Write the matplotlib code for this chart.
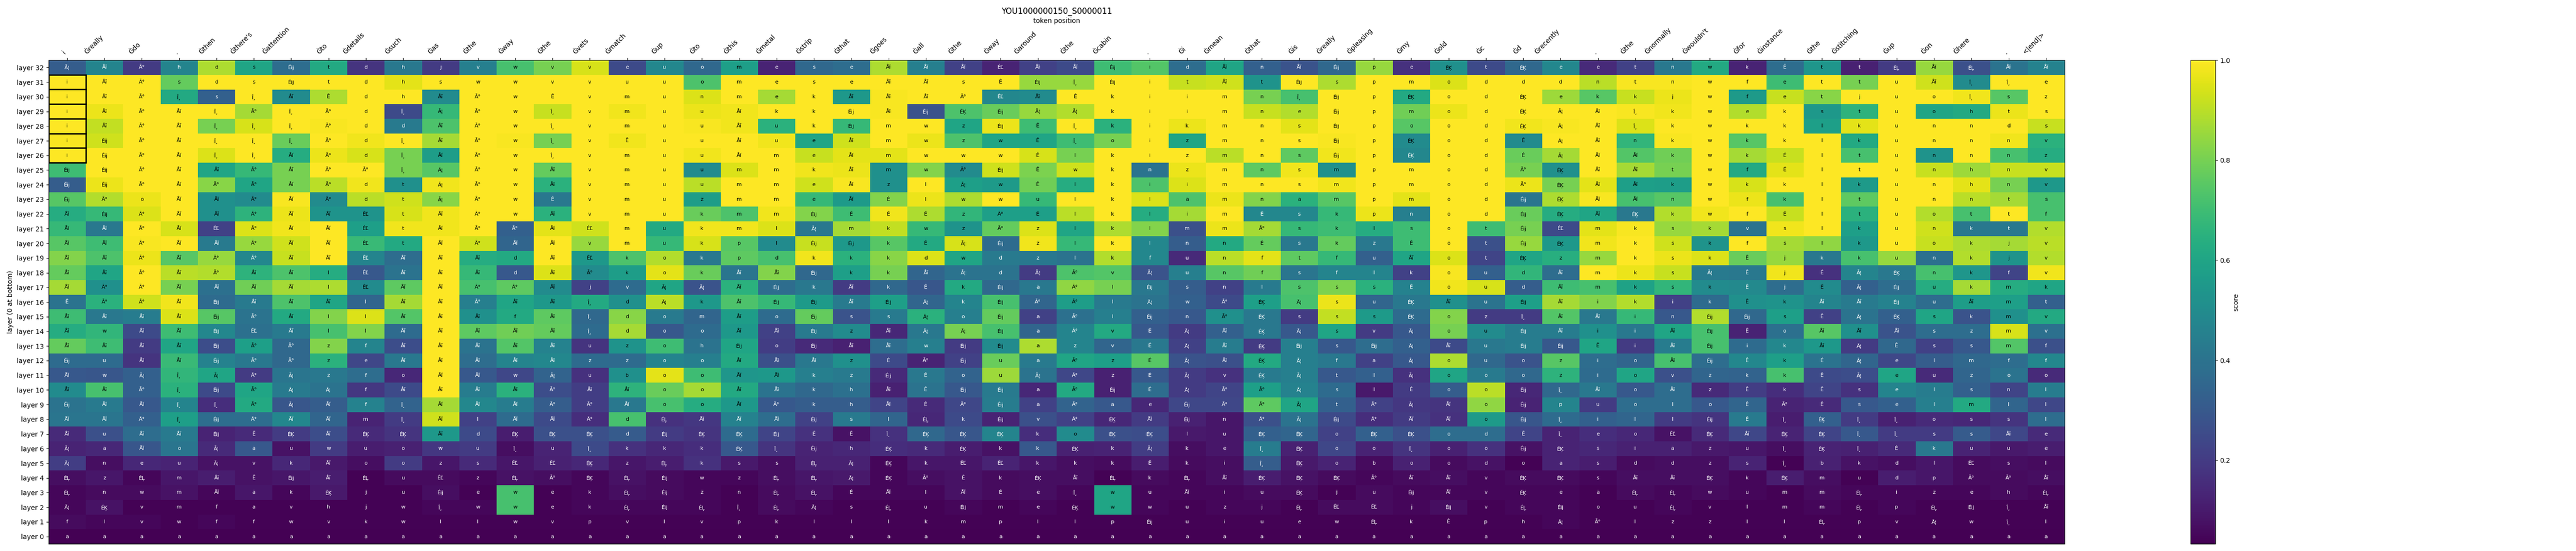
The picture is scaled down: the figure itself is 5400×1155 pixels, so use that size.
import matplotlib
matplotlib.use('Agg')
import matplotlib.pyplot as plt
from matplotlib.patches import Rectangle
import numpy as np

title = 'YOU1000000150_S0000011'
columns = ['i', 'Ġreally', 'Ġdo', '.', 'Ġthen', "Ġthere's", 'Ġattention', 'Ġto', 'Ġdetails', 'Ġsuch',
           'Ġas', 'Ġthe', 'Ġway', 'Ġthe', 'Ġvets', 'Ġmatch', 'Ġup', 'Ġto', 'Ġthis', 'Ġmetal', 'Ġstrip', 'Ġthat',
           'Ġgoes', 'Ġall', 'Ġthe', 'Ġway', 'Ġaround', 'Ġthe', 'Ġcabin', '.', 'Ġi', 'Ġmean', 'Ġthat',
           'Ġis', 'Ġreally', 'Ġpleasing', 'Ġmy', 'Ġold', 'Ġc', 'Ġd', 'Ġrecently', '.', 'Ġthe', 'Ġnormally', "Ġwouldn't",
           'Ġfor', 'Ġinstance', 'Ġthe', 'Ġstitching', 'Ġup', 'Ġon', 'Ġhere', '.', '<|end|>']
layers = [f'layer {n}' for n in range(33)]

# top row of the picture first (layer 32 down to layer 0)
tokens = [
    "Ã¦ Åĭ Ã° h d s Éĳ t d h j v w v v e u o m e s e Åĭ Åĭ Åĭ ÉĽ Åĭ Åĭ Éĳ i d Åĭ n Åĭ Éĳ p e ÉĶ t ÉĶ e e t n w k Ê t t ÉĻ Åĭ ÉĻ Åĭ Åĭ",
    "i Åĭ Ã° s d s Éĳ t d h s w w v v u u o m e s e Åĭ Åĭ s Ê Éĳ Î¸ Éĳ i t Åĭ t Éĳ s p m o d d d n t n w f e t t u Åĭ Î¸ Î¸ e",
    "i Åĭ Ã° Î¸ s Î¸ Åĭ Ê d h Åĭ Ã° w Ê v m u n m e k Åĭ Åĭ Åĭ Ã° ÉĽ Åĭ Ê k i i m n Î¸ Éĳ p ÉĶ o d ÉĶ e k k j w f e t j u o Î¸ s z",
    "i Åĭ Ã° Åĭ Î¸ Ã° Î¸ Ã° d Î¸ Ã¦ Ã° w Î¸ v m u u Åĭ k k Éĳ Åĭ Éĳ ÉĶ Éĳ Ã¦ Ã¦ k i i m n e Éĳ p m o d ÉĶ Ã¦ Åĭ Î¸ k w e k s t u o h t s",
    "i Åĭ Ã° Åĭ Î¸ Î¸ Î¸ Ã° d d Åĭ Ã° w Î¸ v m u u Åĭ u k Éĳ m w z Éĳ Ê Î¸ k i k m n s Éĳ p o o d ÉĶ Ã¦ Åĭ Î¸ k w k k l k u n n d s",
    "i Éĳ Ã° Åĭ Î¸ Î¸ Î¸ Ã° d Î¸ Åĭ Ã° w Î¸ v Ê u u Åĭ u e Åĭ m w z w Ê Î¸ o i z m n s Éĳ p ÉĶ o d É Ã¦ Åĭ n k w k k l k u n n n v",
    "i Éĳ Ã° Åĭ Î¸ Î¸ Åĭ Ã° d Î¸ Åĭ Ã° w Î¸ v m u u Åĭ m e Åĭ m w w w Ê l k i z m n s Éĳ p ÉĶ o d É Ã¦ Åĭ Åĭ k w k É l t u n n n z",
    "Éĳ Éĳ Ã° Åĭ Åĭ Ã° Åĭ Ã° Ã° Î¸ Ã¦ Ã° w Åĭ v m u u m m k Åĭ m w Ã° Éĳ Ê w k n z m n s m p m o d Ã° ÉĶ Åĭ Åĭ t w f É l t u n h n v",
    "Éĳ Éĳ Ã° Åĭ Ã° Ã° Åĭ Ã° d t Ã¦ Ã° w Åĭ v m u u m m e Åĭ z l Ã¦ w Ê l k i i m n s m p m o d Ã° ÉĶ Åĭ Åĭ k w k k l k u n h n v",
    "Éĳ Ã° o Åĭ Åĭ Ã° Åĭ Ã° d t Ã¦ Ã° w Ê v m u z m m e Åĭ É l w w u l k l a m n a m p m o d Éĳ ÉĶ Åĭ Åĭ n w f k l t u n n t s",
    "Åĭ Éĳ Ã° Åĭ Åĭ Ã° Åĭ Åĭ ÉĽ t Åĭ Ã° w Åĭ v m u k m m Éĳ É É É z Ã° É l k l i m É s k p n o d Éĳ ÉĶ Åĭ ÉĶ k w f É l t u o t t f",
    "Åĭ Åĭ Ã° Åĭ ÉĽ Ã° Åĭ Åĭ ÉĽ t Åĭ Ã° Ã° Åĭ ÉĽ m u k m l Ã¦ m k w z Ã° z l k l m m Ã° s k l s o t Éĳ ÉĽ m k s k v s l k u n k t v",
    "Åĭ Åĭ Ã° Åĭ Åĭ Ã° Åĭ Åĭ ÉĽ t Åĭ Ã° Åĭ Åĭ v m u k p l Éĳ Éĳ k Ê Ã¦ Éĳ z l k l n n É s k z Ê o t Éĳ ÉĶ m k s k f s l k u o k j v",
    "Åĭ Åĭ Ã° Åĭ Ã° Ã° Åĭ Åĭ ÉĽ Åĭ Åĭ Åĭ d Åĭ ÉĽ k o k p d k k k d w d z l k f u n f t f u Åĭ o t ÉĶ z m k s k Ê j k k u n k j v",
    "Åĭ Åĭ Ã° Åĭ Ã° Åĭ Åĭ l ÉĽ Åĭ Åĭ Åĭ d Åĭ Ã° k o k Åĭ Åĭ Éĳ k k Åĭ Ã¦ d Ã¦ Ã° v Ã¦ u n f s f l k o u d Åĭ m k s Ã¦ Ê j É Ã¦ ÉĶ n k f v",
    "Åĭ Ã° Ã° Åĭ Åĭ Åĭ Åĭ l ÉĽ Åĭ Åĭ Ã° Ã° Åĭ j v Ã¦ Ã¦ Åĭ Éĳ k Åĭ k Ê k Éĳ a Ã° l Éĳ s n l s s s Ê o u d Åĭ m k s k Ê j É Ã¦ Éĳ u k m k",
    "Ê Ã° Ã° Åĭ Éĳ Åĭ Åĭ Åĭ l Åĭ Åĭ Ã° Åĭ Åĭ Î¸ d Ã¦ k Åĭ Éĳ Éĳ Åĭ Éĳ Ã¦ k Éĳ Ã° Ã° l Ã¦ w Ã° ÉĶ Ã¦ s u ÉĶ Åĭ u Éĳ Åĭ i k i k Ê k Åĭ Åĭ Éĳ u Åĭ m t",
    "Åĭ Åĭ Åĭ Åĭ Éĳ Ã° Åĭ l l Åĭ Åĭ Åĭ f Åĭ Î¸ d o m Åĭ o Éĳ s s Ã¦ o Éĳ a Ã° l Éĳ n Ã° ÉĶ s s s ÉĶ o z Î¸ Åĭ Åĭ i n Éĳ Éĳ s Ê Ã¦ ÉĶ s k m v",
    "Åĭ w Åĭ Åĭ Éĳ ÉĽ Åĭ l l Åĭ Åĭ Åĭ Åĭ Åĭ Î¸ d o o Åĭ Åĭ Éĳ z Åĭ Ã¦ Ã¦ Éĳ a Ã° v É Ã¦ Åĭ ÉĶ Ã¦ s v Ã¦ o u Éĳ Åĭ i i Åĭ Éĳ Ê o Åĭ Åĭ Åĭ s z m v",
    "Åĭ Åĭ Åĭ Åĭ Éĳ Ã° Ã° z f Åĭ Åĭ Åĭ Åĭ Åĭ u z o h Éĳ o Éĳ Åĭ Åĭ w Éĳ Éĳ a z v É Ã¦ Åĭ ÉĶ Éĳ s Éĳ Ã¦ Åĭ u Éĳ Éĳ Ê i Åĭ Éĳ i k Åĭ Ã¦ Ê s s m f",
    "Éĳ u Åĭ Åĭ Éĳ Ã° Ã° z e Åĭ Åĭ Åĭ Åĭ Åĭ z z o o Åĭ Åĭ Åĭ z É Ã° Éĳ u a Ã° z É Ã¦ Åĭ ÉĶ Ã¦ f a Ã¦ o u o z i o Åĭ Éĳ Ê k É Ã¦ e l m f f",
    "Åĭ w Ã¦ Î¸ Ã¦ Ã° Ã¦ z f o Åĭ Åĭ w Ã¦ u b o o Åĭ Åĭ k z Éĳ Ê o u Ã¦ Ã° z É Ã¦ v ÉĶ Ã¦ t l Ã¦ o o o z i o v z k k Ê Ã¦ e u z o o",
    "Åĭ Åĭ Ã° Î¸ Éĳ Ã° Ã¦ Ã¦ f Åĭ Åĭ Åĭ Åĭ Ã° Åĭ Åĭ o o Åĭ Åĭ k h Åĭ Ê Éĳ Éĳ a Ã° Éĳ É Ã¦ Ã° Ã° Ã¦ s l É o o Éĳ Î¸ Åĭ o Åĭ z Ê k Ê s e l s n l",
    "Éĳ Åĭ Åĭ Î¸ Î¸ Ã° Ã¦ Åĭ f Î¸ Åĭ Åĭ Åĭ Ã° Ã° Åĭ o o Åĭ Ã° k h Åĭ Ê Ã° Éĳ a Ã° a e Éĳ Ã° Ã° Ã¦ t Ã° Ã¦ Åĭ o Éĳ p u o l o Ê Ã° Ê s e l m l l",
    "Åĭ Åĭ Ã° Î¸ Éĳ Ã° Åĭ Åĭ m Î¸ Åĭ l Åĭ Åĭ Ã° d ÉĻ Åĭ Åĭ Åĭ Éĳ s l ÉĻ k Éĳ v Ã° ÉĶ Åĭ Éĳ n Ã° Ã¦ Éĳ Ã° Åĭ Åĭ o Éĳ Î¸ i l l Éĳ É Î¸ ÉĶ Î¸ Î¸ o s s l",
    "Åĭ u Åĭ Åĭ Éĳ Ê ÉĶ Åĭ ÉĶ ÉĶ Åĭ d ÉĶ ÉĶ ÉĶ d Éĳ ÉĶ ÉĶ Éĳ É Ê Î¸ ÉĶ ÉĶ ÉĶ k o ÉĶ ÉĶ l u ÉĶ ÉĶ o ÉĶ ÉĶ o d Ê Î¸ e o ÉĽ ÉĶ Åĭ ÉĶ ÉĶ Î¸ Î¸ s s Åĭ e",
    "Ã¦ a Åĭ o Ã¦ a u w u o w u Î¸ u Î¸ k k k ÉĶ Î¸ Éĳ h ÉĶ k ÉĶ k k ÉĶ k Ã¦ k e Î¸ ÉĶ o o Î¸ o o Éĳ ÉĶ s i a z u Î¸ ÉĶ Î¸ É k u u e",
    "Ã¦ n e u Ã¦ v k Åĭ o o z s ÉĽ ÉĽ ÉĶ z ÉĻ k s s ÉĻ Ã¦ ÉĶ k ÉĽ ÉĽ k k k Ê k i Î¸ ÉĶ o b o o d o a s d d z s Î¸ b k d l ÉĽ s l",
    "ÉĻ z ÉĻ m Åĭ Ê Éĳ Åĭ ÉĻ u ÉĽ z ÉĻ Ã° ÉĶ ÉĻ Éĳ w z ÉĻ ÉĻ Ã¦ ÉĶ Ã° É k ÉĶ Åĭ ÉĻ k ÉĻ Åĭ ÉĶ ÉĶ ÉĶ Ã° Åĭ Åĭ v ÉĶ ÉĶ s Åĭ Åĭ ÉĶ k ÉĶ m u d p Ã° Ã° Åĭ",
    "ÉĻ n w m Åĭ a k ÉĶ j u Éĳ e w e k ÉĻ Éĳ z n ÉĻ ÉĻ É Åĭ l Åĭ É e Î¸ w u Åĭ i u ÉĶ j u Éĳ Åĭ v ÉĶ e a ÉĻ ÉĻ w u m m ÉĻ i z e h ÉĻ",
    "Ã¦ ÉĶ v m f a v h j w Î¸ w w e k ÉĻ Éĳ ÉĻ Î¸ ÉĻ Ã¦ s ÉĻ u Éĳ m e ÉĶ w w u z j ÉĻ ÉĽ ÉĽ j Éĳ v ÉĻ Éĳ o u ÉĻ v l m m ÉĻ p ÉĻ Éĳ Î¸ Åĭ",
    "f l v w f f w v k w l l w v p v l v p k l l l k m p l l p Éĳ u i u e w ÉĻ k Ê p h Ã¦ Ã° l z z l l ÉĻ p v Ã¦ w Î¸ l",
    "a a a a a a a a a a a a a a a a a a a a a a a a a a a a a a a a a a a a a a a a a a a a a a a a a a a a a a",
]
tokens = [line.split() for line in tokens]

scores = [
    [.32,.47,.20,.47,.88,.60,.38,.62,.18,.42, .20,.45,.72,.80,.94,.25,.48,.36,.58,.13,.36,.38, .88,.45,.22,.13,.22,.25,.70,.74,.38,.60,.33, .28,.36,.85,.17,.52,.25,.36,.48,.15,.22,.42,.62, .13,.38,.54,.12,.20,.85,.27,.40,.46],
    [1,1,1,.77,1,1,1,1,1,.96, 1,1,1,1,1,1,1,.73,1,1,1,1, 1,1,1,1,.85,.85,1,1,.92,.93,.53, 1,.88,1,1,.95,1,1,1,.90,.99,.99,1, 1,.70,1,.80,1,.93,.50,1,1],
    [1,1,1,.62,.33,1,.50,.88,1,1, .50,1,1,1,1,1,1,.95,1,.87,1,.55, .99,1,1,.48,.50,1,1,1,1,1,.80, .72,1,1,.62,1,1,1,.86,.75,.92,.97,1, .56,.92,.83,1,1,1,.98,.75,1],
    [1,.97,1,1,1,.87,1,1,1,.25, .68,1,1,.92,1,.98,1,.97,.98,1,1,1, .99,.28,.73,.78,.85,.89,1,1,1,1,.92, .89,1,1,.79,.97,1,1,1,1,.99,.98,1, .89,1,.55,.66,1,.60,.62,.97,1],
    [1,.91,1,1,.80,.94,1,.99,1,.43, .73,1,1,1,1,1,1,.99,.98,.65,1,.68, 1,1,.60,.97,.70,1,.65,1,.97,1,1, .96,1,1,.75,1,1,.98,.99,1,.95,1,1, 1,1,.58,.96,1,1,1,1,.92],
    [.99,.93,1,1,1,1,.78,1,.98,1, .87,1,.99,.80,1,.98,1,1,1,.98,.60,.93, 1,.97,.73,.60,.60,.70,.80,1,.60,1,1, 1,.99,1,.50,1,1,.50,1,1,.67,.99,1, .75,1,1,.62,1,1,1,.98,.65],
    [1,1,1,1,.95,1,.63,.97,.94,.80, .57,1,1,1,1,1,1,.98,1,1,.92,.96, .96,1,1,1,.94,.80,1,1,1,.90,1, .76,.98,1,.48,1,1,.78,.87,1,.74,.79,1, .87,.92,1,.72,1,.53,1,.72,.63],
    [.70,1,1,1,.60,.68,.80,1,1,.80, .75,1,1,.77,1,1,1,.50,.95,1,.98,.97, .52,.82,.50,.93,.81,.93,1,.40,.97,1,.76, .98,.52,1,1,1,1,.80,.52,1,.87,.80,1, .62,.96,1,1,1,.92,.86,.92,.92],
    [.32,.97,1,1,.83,.60,.80,.90,.98,.52, .98,1,1,.65,1,1,1,.90,1,1,.93,.99, .52,1,.58,.56,.79,.63,1,.73,.95,1,1, 1,.98,1,1,1,1,.97,.80,.96,.58,.57,1, .94,1,1,.56,1,1,.96,.80,.55],
    [.75,.89,.97,1,.52,.50,.99,.50,.90,.93, .83,1,1,.42,1,1,1,.57,1,1,.68,.56, .82,.97,.88,1,.68,1,1,.95,.73,.97,.82, .65,.75,1,.96,1,1,.41,.88,.99,.72,.75,1, .97,.72,1,.76,1,1,.90,.87,.72],
    [.63,.68,.95,1,.52,.66,.97,.53,.53,.94, .98,1,1,.65,1,1,1,.78,.73,.98,.82,.70, .98,.88,.67,.58,.58,.90,1,.63,.87,1,.48, .48,.68,.97,.45,1,1,.78,.63,.60,.42,.89,.98, 1,.92,1,.65,1,.89,.72,1,.72],
    [.68,.42,1,.94,.22,.95,.98,1,.58,.98, .98,1,.33,.96,.93,1,.62,.98,.98,.95,.42,.87, .91,.68,.53,.77,.95,.60,.88,.82,.27,.97,.87, .68,.70,.63,.70,1,.70,.80,.25,.96,.99,.85,.87, .40,.98,1,.58,1,.93,.42,.42,.89],
    [.75,.70,.99,1,.43,.85,.93,1,.69,.62, 1,.93,.35,1,.85,1,.68,.94,.75,.50,.92,.55, .75,.62,.94,.37,.98,.68,1,.48,.32,.62,.77, .42,.77,.42,.70,1,.27,.85,.55,.98,1,.93,.53, 1,.87,.84,.55,1,.92,.88,.87,.90],
    [.82,.73,.97,.75,.85,.48,.92,1,.47,.38, 1,.63,.62,1,.55,.73,.89,.42,.76,.72,.98,.65, .83,.95,.60,.43,.42,.40,.89,.48,.15,.90,.96, .76,.68,.33,.60,.95,.23,.60,.64,.85,1,.97,.95, .78,.85,.42,.72,.85,.39,.89,.53,.89],
    [.77,.60,1,.90,.89,.66,.73,.63,.30,.40, 1,.68,.30,.95,.50,.57,.96,.78,.41,.82,.36,.58, .80,.35,.40,.40,.20,.73,.74,.28,.45,.75,.79, .41,.47,.47,.22,.99,.33,.67,.38,1,.97,.92,.43, .42,.98,.17,.47,.42,.72,.54,.23,.98],
    [.87,.52,1,.80,.39,.79,.87,.88,.50,.76, 1,.72,.76,.50,.22,.37,.60,.28,.65,.38,.42,.20, .36,.29,.62,.36,.42,.84,.80,.42,.32,.22,.43, .73,.81,.65,.46,.98,.94,.32,.70,.72,.59,.67,.50, .49,.38,.50,.33,.38,.63,.87,.63,.60],
    [.40,.65,.93,.98,.37,.43,.73,.60,.35,.87, 1,.45,.60,.55,.62,.52,.90,.55,.73,.68,.56,.43, .58,.35,.47,.72,.35,.57,.43,.40,.33,.25,.58, .72,.97,.35,.42,.52,.40,.58,.87,.82,.89,.22,.37, .52,.53,.47,.43,.46,.38,.57,.58,.33],
    [.70,.42,.44,.95,.75,.40,.62,.82,.95,.74, 1,.52,.62,.76,.36,.83,.43,.35,.57,.37,.77,.28, .43,.65,.45,.77,.22,.39,.45,.33,.30,.52,.42, .20,.91,.56,.37,.82,.20,.20,.74,.42,.68,.30,.89, .36,.58,.22,.40,.33,.60,.28,.52,.62],
    [.63,.67,.25,.70,.48,.39,.43,.72,.82,.37, 1,.76,.79,.77,.37,.87,.30,.37,.55,.22,.43,.50, .14,.42,.80,.72,.35,.47,.62,.30,.20,.33,.42, .30,.60,.20,.30,.80,.50,.44,.44,.52,.42,.60,.72, .13,.39,.75,.52,.28,.38,.38,.94,.39],
    [.77,.70,.20,.60,.26,.58,.36,.82,.47,.26, 1,.40,.74,.46,.18,.53,.70,.40,.60,.21,.15,.12, .38,.45,.20,.50,.88,.47,.35,.42,.22,.44,.20, .45,.30,.38,.33,.25,.42,.44,.30,.60,.20,.44,.72, .37,.48,.55,.20,.36,.22,.30,.74,.27],
    [.37,.37,.18,.69,.46,.42,.36,.65,.24,.42, 1,.38,.47,.48,.37,.37,.47,.45,.62,.27,.42,.52, .25,.13,.22,.78,.43,.60,.58,.75,.28,.27,.62, .45,.42,.22,.30,.88,.36,.28,.75,.38,.35,.72,.38, .48,.58,.40,.35,.24,.32,.36,.38,.48],
    [.30,.29,.33,.67,.60,.20,.41,.42,.38,.14, 1,.30,.24,.34,.17,.52,.96,.70,.54,.55,.45,.43, .15,.42,.34,.86,.40,.24,.12,.30,.20,.17,.43, .45,.30,.33,.17,.60,.43,.36,.66,.37,.60,.27,.35, .34,.72,.25,.26,.60,.15,.35,.40,.15],
    [.50,.72,.33,.65,.25,.60,.43,.40,.19,.25, 1,.44,.65,.26,.21,.66,.78,.87,.62,.40,.36,.39, .12,.40,.30,.43,.14,.62,.12,.38,.20,.23,.58, .46,.37,.10,.20,.32,.90,.14,.36,.42,.30,.38,.15, .21,.16,.23,.17,.47,.44,.33,.23,.44],
    [.40,.43,.30,.47,.16,.62,.29,.32,.46,.34, .87,.48,.44,.32,.21,.42,.72,.63,.55,.30,.32,.32, .23,.15,.24,.44,.22,.34,.30,.14,.24,.24,.76, .60,.33,.22,.19,.18,.84,.13,.47,.20,.38,.38,.30, .35,.13,.15,.30,.33,.45,.62,.35,.24],
    [.41,.41,.33,.58,.38,.38,.48,.35,.13,.20, .93,.22,.37,.25,.16,.72,.17,.19,.46,.38,.22,.43, .35,.14,.25,.13,.27,.22,.14,.20,.12,.09,.27, .40,.25,.16,.20,.17,.56,.29,.37,.33,.35,.20,.18, .43,.11,.33,.20,.12,.15,.14,.18,.38],
    [.15,.27,.38,.43,.13,.15,.20,.26,.15,.18, .55,.25,.11,.27,.27,.31,.20,.18,.37,.23,.17,.08, .17,.36,.29,.47,.16,.50,.27,.26,.10,.09,.33, .35,.22,.33,.27,.38,.38,.23,.13,.16,.14,.08,.15, .24,.13,.23,.30,.20,.20,.31,.24,.15],
    [.13,.14,.29,.41,.15,.30,.08,.20,.11,.12, .19,.20,.07,.13,.25,.17,.14,.16,.30,.18,.13,.14, .16,.15,.11,.08,.30,.12,.13,.21,.07,.09,.44, .12,.24,.13,.18,.12,.17,.08,.13,.14,.12,.12,.10, .09,.07,.13,.12,.15,.42,.13,.10,.11],
    [.21,.07,.14,.13,.08,.08,.14,.10,.07,.20, .09,.15,.09,.12,.14,.09,.11,.17,.10,.07,.12,.12, .05,.09,.09,.13,.09,.07,.06,.11,.06,.07,.32, .10,.13,.06,.12,.06,.08,.04,.13,.11,.06,.07,.07, .13,.04,.12,.08,.07,.09,.06,.07,.06],
    [.07,.09,.05,.09,.11,.08,.09,.11,.04,.06, .06,.05,.08,.07,.05,.08,.06,.05,.05,.07,.09,.10, .05,.07,.08,.06,.07,.07,.04,.06,.05,.07,.11, .08,.06,.05,.06,.07,.05,.06,.06,.05,.07,.07,.07, .05,.11,.07,.04,.11,.09,.06,.06,.07],
    [.05,.06,.06,.08,.05,.09,.05,.10,.04,.04, .07,.04,.72,.04,.05,.07,.06,.05,.04,.06,.08,.05, .05,.05,.08,.06,.07,.05,.60,.05,.05,.05,.06, .06,.04,.06,.05,.05,.05,.05,.05,.04,.06,.05,.06, .05,.04,.06,.05,.05,.05,.05,.06,.05],
    [.05,.08,.04,.04,.04,.04,.04,.04,.04,.04, .05,.05,.72,.04,.05,.05,.05,.05,.04,.06,.05,.04, .04,.04,.05,.04,.05,.04,.60,.05,.04,.05,.05, .04,.06,.06,.05,.07,.04,.05,.05,.04,.04,.05,.04, .04,.04,.05,.04,.05,.04,.04,.04,.04],
    [.06,.05,.05,.04,.05,.04,.04,.04,.04,.04, .04,.04,.04,.04,.04,.04,.04,.04,.04,.04,.04,.04, .04,.04,.04,.04,.04,.04,.04,.04,.04,.04,.04, .04,.04,.04,.04,.04,.04,.04,.05,.04,.04,.04,.04, .04,.04,.04,.04,.04,.04,.04,.04,.04],
    [.033,.033,.033,.033,.033,.033,.033,.033,.033,.033, .033,.033,.033,.033,.033,.033,.033,.033,.033,.033,.033,.033, .033,.033,.033,.033,.033,.033,.033,.033,.033,.033,.033, .033,.033,.033,.033,.033,.033,.033,.033,.033,.033,.033,.033, .033,.033,.033,.033,.033,.033,.033,.033,.033],
]
boxed_column = 0
boxed_layers = [26, 27, 28, 29, 30, 31]

# flip so index equals the layer number
scores = np.array(scores)[::-1]
tokens = tokens[::-1]

W, H = 5400, 1155
fig = plt.figure(figsize=(W / 100, H / 100), dpi=100)
ax = fig.add_axes([101.6 / W, 15 / H, 4226.4 / W, 1014 / H])
cax = fig.add_axes([4592 / W, 15 / H, 51.5 / W, 1014 / H])

im = ax.imshow(scores, cmap='viridis', aspect='auto', origin='lower', interpolation='nearest')

for r in range(scores.shape[0]):
    for c in range(scores.shape[1]):
        ax.text(c, r, tokens[r][c], ha='center', va='center', fontsize=8,
                color='white' if scores[r, c] < 0.5 else 'black')

for r in boxed_layers:
    ax.add_patch(Rectangle((boxed_column - 0.5, r - 0.5), 1, 1, fill=False, edgecolor='black', linewidth=2))

ax.xaxis.tick_top()
ax.xaxis.set_label_position('top')
ax.set_xticks(range(len(columns)))
ax.set_xticklabels(columns, rotation=45, ha='right')
ax.set_yticks(range(len(layers)))
ax.set_yticklabels(layers)
ax.set_xlabel('token position')
ax.set_ylabel('layer (0 at bottom)')
ax.set_title(title)

cbar = fig.colorbar(im, cax=cax)
cbar.set_label('score')

fig.savefig('out.png', dpi=100)
